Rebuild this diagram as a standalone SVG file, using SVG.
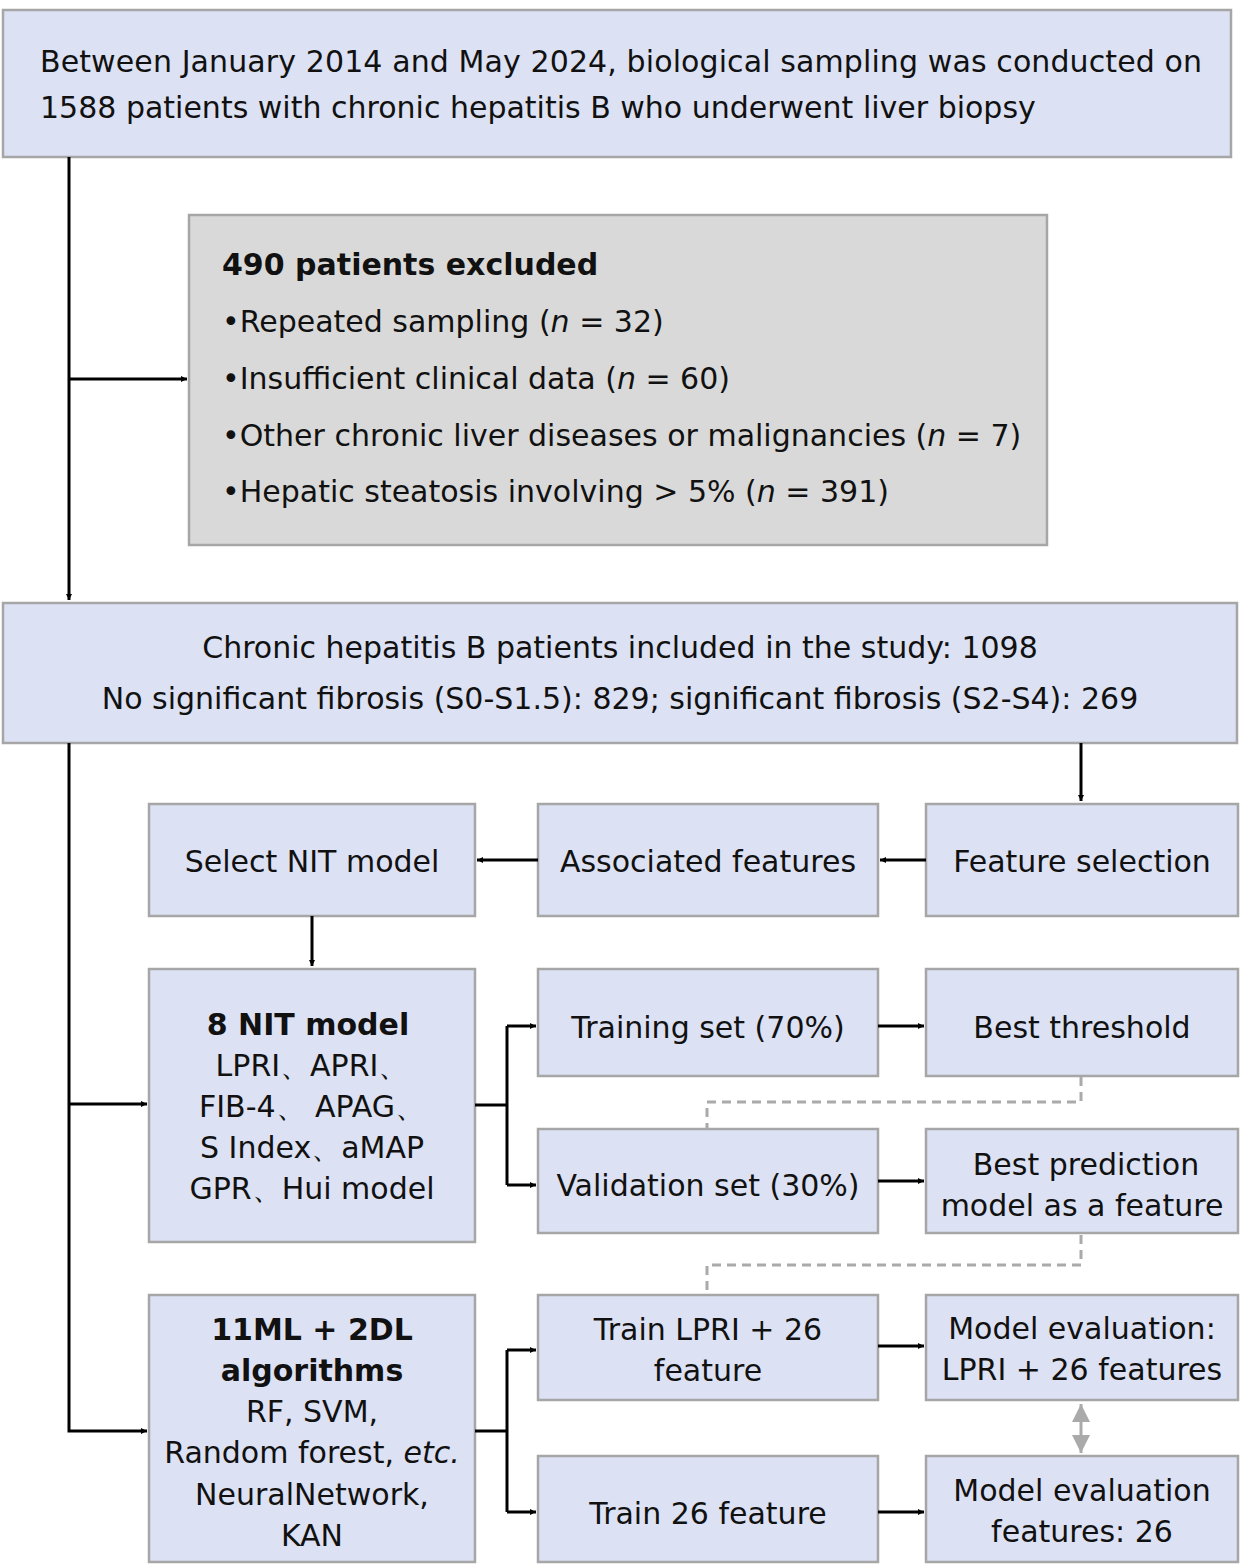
<svg xmlns="http://www.w3.org/2000/svg" width="1240" height="1567" viewBox="0 0 1240 1567">
<style>
.b{fill:#dce1f3;stroke:#a6a6a6;stroke-width:2.5}
.g{fill:#d9d9d9;stroke:#a6a6a6;stroke-width:2.5}
text{font-family:"DejaVu Sans",Verdana,sans-serif;font-size:30px;fill:#111}
.c{text-anchor:middle}
.bd{font-weight:bold}
.l{fill:none;stroke:#000;stroke-width:3}
.d{fill:none;stroke:#aaa;stroke-width:3;stroke-dasharray:9,6}
</style>
<defs>
<marker id="a" viewBox="0 0 10 10" refX="10" refY="5" markerWidth="6" markerHeight="6" markerUnits="userSpaceOnUse" orient="auto"><path d="M0,0L10,5L0,10z" fill="#000"/></marker>
<marker id="ga" viewBox="0 0 10 10" refX="10" refY="5" markerWidth="6" markerHeight="6" orient="auto-start-reverse"><path d="M0,0L10,5L0,10z" fill="#aaa"/></marker>
</defs>
<style>marker path{}</style>
<g id="n1"><rect class="b" x="3" y="10" width="1228" height="147"/>
<text x="40" y="72" textLength="1162">Between January 2014 and May 2024, biological sampling was conducted on</text>
<text x="40" y="118">1588 patients with chronic hepatitis B who underwent liver biopsy</text></g>
<g id="n2"><rect class="g" x="189" y="215" width="858" height="330"/>
<text x="222" y="275" class="bd">490 patients excluded</text>
<text x="222" y="332">•Repeated sampling (<tspan font-style="italic">n</tspan> = 32)</text>
<text x="222" y="389">•Insufficient clinical data (<tspan font-style="italic">n</tspan> = 60)</text>
<text x="222" y="446">•Other chronic liver diseases or malignancies (<tspan font-style="italic">n</tspan> = 7)</text>
<text x="222" y="502">•Hepatic steatosis involving &gt; 5% (<tspan font-style="italic">n</tspan> = 391)</text></g>
<g id="n3"><rect class="b" x="3" y="603" width="1234" height="140"/>
<text x="620" y="658" class="c">Chronic hepatitis B patients included in the study: 1098</text>
<text x="620" y="709" class="c">No significant fibrosis (S0-S1.5): 829; significant fibrosis (S2-S4): 269</text></g>
<g id="n4"><rect class="b" x="149" y="804" width="326" height="112"/><text x="312" y="872" class="c">Select NIT model</text></g>
<g id="n5"><rect class="b" x="538" y="804" width="340" height="112"/><text x="708" y="872" class="c">Associated features</text></g>
<g id="n6"><rect class="b" x="926" y="804" width="312" height="112"/><text x="1082" y="872" class="c">Feature selection</text></g>
<g id="n7"><rect class="b" x="149" y="969" width="326" height="273"/>
<text x="308" y="1035" class="c bd">8 NIT model</text>
<text x="312" y="1076" class="c">LPRI、APRI、</text>
<text x="312" y="1117" class="c">FIB-4、 APAG、</text>
<text x="312" y="1158" class="c">S Index、aMAP</text>
<text x="312" y="1199" class="c">GPR、Hui model</text></g>
<g id="n8"><rect class="b" x="538" y="969" width="340" height="107"/><text x="708" y="1038" class="c">Training set (70%)</text></g>
<g id="n9"><rect class="b" x="926" y="969" width="312" height="107"/><text x="1082" y="1038" class="c">Best threshold</text></g>
<g id="n10"><rect class="b" x="538" y="1129" width="340" height="104"/><text x="708" y="1196" class="c">Validation set (30%)</text></g>
<g id="n11"><rect class="b" x="926" y="1129" width="312" height="104"/><text x="1086" y="1175" class="c">Best prediction</text><text x="1082" y="1216" class="c">model as a feature</text></g>
<g id="n12"><rect class="b" x="149" y="1295" width="326" height="267"/>
<text x="312" y="1340" class="c bd">11ML + 2DL</text>
<text x="312" y="1381" class="c bd">algorithms</text>
<text x="312" y="1422" class="c">RF, SVM,</text>
<text x="312" y="1463" class="c">Random forest, <tspan font-style="italic">etc.</tspan></text>
<text x="312" y="1505" class="c">NeuralNetwork,</text>
<text x="312" y="1546" class="c">KAN</text></g>
<g id="n13"><rect class="b" x="538" y="1295" width="340" height="105"/><text x="708" y="1340" class="c">Train LPRI + 26</text><text x="708" y="1381" class="c">feature</text></g>
<g id="n14"><rect class="b" x="926" y="1295" width="312" height="105"/><text x="1082" y="1339" class="c">Model evaluation:</text><text x="1082" y="1380" class="c">LPRI + 26 features</text></g>
<g id="n15"><rect class="b" x="538" y="1456" width="340" height="106"/><text x="708" y="1524" class="c">Train 26 feature</text></g>
<g id="n16"><rect class="b" x="926" y="1456" width="312" height="106"/><text x="1082" y="1501" class="c">Model evaluation</text><text x="1082" y="1542" class="c">features: 26</text></g>
<g id="connectors">
<path class="l" d="M69,157V600" marker-end="url(#a)"/>
<path class="l" d="M69,379H187" marker-end="url(#a)"/>
<path class="l" d="M69,743V1431H147" marker-end="url(#a)"/>
<path class="l" d="M69,1104H147" marker-end="url(#a)"/>
<path class="l" d="M1081,743V801" marker-end="url(#a)"/>
<path class="l" d="M926,860H880" marker-end="url(#a)"/>
<path class="l" d="M538,860H477" marker-end="url(#a)"/>
<path class="l" d="M312,916V966" marker-end="url(#a)"/>
<path class="l" d="M475,1105H507"/>
<path class="l" d="M507,1026V1185"/>
<path class="l" d="M507,1026H536" marker-end="url(#a)"/>
<path class="l" d="M507,1185H536" marker-end="url(#a)"/>
<path class="l" d="M878,1026H924" marker-end="url(#a)"/>
<path class="l" d="M878,1181H924" marker-end="url(#a)"/>
<path class="d" d="M1081,1077V1102H707V1129"/>
<path class="d" d="M1081,1235V1265H707V1295"/>
<path class="l" d="M475,1431H507"/>
<path class="l" d="M507,1350V1512"/>
<path class="l" d="M507,1350H536" marker-end="url(#a)"/>
<path class="l" d="M507,1512H536" marker-end="url(#a)"/>
<path class="l" d="M878,1346H924" marker-end="url(#a)"/>
<path class="l" d="M878,1512H924" marker-end="url(#a)"/>
<path d="M1081,1404V1453" stroke="#aaa" stroke-width="3" marker-start="url(#ga)" marker-end="url(#ga)"/>
</g>
</svg>
